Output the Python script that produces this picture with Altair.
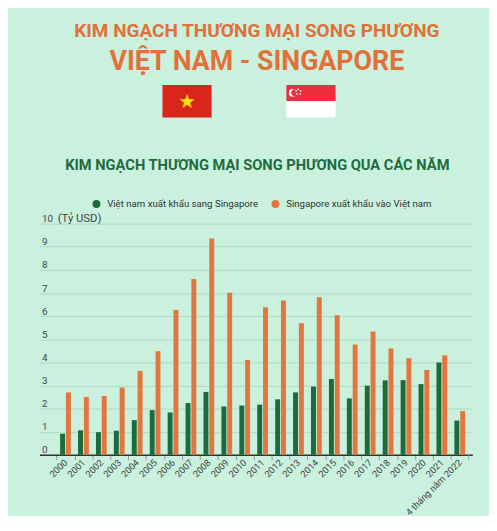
import altair as alt
import pandas as pd

categories = ["2000", "2001", "2002", "2003", "2004", "2005", "2006", "2007", "2008",
              "2009", "2010", "2011", "2012", "2013", "2014", "2015", "2016", "2017",
              "2018", "2019", "2020", "2021", "4 tháng năm 2022"]
vn_export = [0.91, 1.06, 0.98, 1.04, 1.50, 1.93, 1.83, 2.24, 2.72, 2.09, 2.13, 2.17,
             2.40, 2.70, 2.95, 3.28, 2.44, 2.99, 3.22, 3.23, 3.06, 3.99, 1.48]
sg_export = [2.70, 2.50, 2.55, 2.91, 3.63, 4.48, 6.26, 7.60, 9.36, 7.01, 4.10, 6.38,
             6.68, 5.69, 6.82, 6.04, 4.77, 5.33, 4.60, 4.18, 3.67, 4.30, 1.89]
series_names = ["Việt nam xuất khẩu sang Singapore", "Singapore xuất khẩu vào Việt nam"]
series_colors = ["#1b6b3d", "#e3753f"]
y_ticks = list(range(0, 11))

title1 = "KIM NGẠCH THƯƠNG MẠI SONG PHƯƠNG"
title2 = "VIỆT NAM - SINGAPORE"
subtitle = "KIM NGẠCH THƯƠNG MẠI SONG PHƯƠNG QUA CÁC NĂM"
unit = "(Tỷ USD)"

rows = []
for c, a, b in zip(categories, vn_export, sg_export):
    rows.append({"year": c, "series": series_names[0], "value": a})
    rows.append({"year": c, "series": series_names[1], "value": b})
df = pd.DataFrame(rows)

W, H = 440, 235
HALF_STEP = 9.11
FONT = "Roboto"
BG = "#c9f1dd"

one = pd.DataFrame({"k": [0]})

bars = alt.Chart(df).mark_bar().encode(
    x=alt.X("year:N", sort=categories, title=None,
            scale=alt.Scale(paddingInner=0.4, paddingOuter=0.775, align=0.743),
            axis=alt.Axis(labelAngle=-45, labelAlign="right", labelBaseline="middle",
                          labelFontSize=9.4, labelColor="#444", labelFont=FONT,
                          tickSize=5, tickColor="#999", tickOffset=-HALF_STEP,
                          labelOffset=HALF_STEP, labelPadding=1, domain=True,
                          domainColor="#333", domainWidth=1.5, grid=False,
                          labelOverlap=False, labelLimit=0)),
    xOffset=alt.XOffset("series:N", sort=series_names,
                        scale=alt.Scale(paddingInner=0.15, paddingOuter=0)),
    y=alt.Y("value:Q", scale=alt.Scale(domain=[0, 10], nice=False),
            axis=alt.Axis(values=y_ticks, title=unit, grid=True, gridColor="#afd9c2",
                          ticks=False, tickSize=0, domain=False, labelAlign="left",
                          labelPadding=-2, labelBaseline="alphabetic", labelOffset=-2,
                          labelFontSize=10, labelColor="#444", labelFont=FONT,
                          labelOverlap=False,
                          titleAngle=0, titleX=18, titleY=-2, titleAlign="left",
                          titleBaseline="alphabetic", titleFontWeight="normal",
                          titleFontSize=11.5, titleColor="#444", titleFont=FONT)),
    color=alt.Color("series:N", sort=series_names,
                    scale=alt.Scale(domain=series_names, range=series_colors),
                    legend=alt.Legend(orient="none", legendX=53, legendY=-25,
                                      direction="horizontal", title=None,
                                      symbolType="circle", symbolSize=64,
                                      symbolStrokeWidth=0, labelFontSize=9.8,
                                      labelFont=FONT, labelColor="#333", labelLimit=0,
                                      columnPadding=12, labelOffset=6, padding=0)),
)

last_tick = alt.Chart(one).mark_rule(color="#999").encode(
    x=alt.value(436.4), y=alt.value(H), y2=alt.value(H + 5))

def text(t, x, y, size, color, weight="bold"):
    return alt.Chart(one).mark_text(text=t, font=FONT, fontSize=size, fontWeight=weight,
                                    color=color, align="center", baseline="alphabetic").encode(
        x=alt.value(x), y=alt.value(y))

def rect(x, x2, y, y2, color):
    return alt.Chart(one).mark_rect(color=color).encode(
        x=alt.value(x), x2=alt.value(x2), y=alt.value(y), y2=alt.value(y2))

def dot(x, y, size, color):
    return alt.Chart(one).mark_circle(color=color, opacity=1, size=size).encode(
        x=alt.value(x), y=alt.value(y))

header = [
    text(title1, 221, -189.5, 19.3, "#e2703a"),
    text(title2, 221, -156, 27.2, "#e2703a"),
    text(subtitle, 221.5, -54.5, 14.9, "#1f6b3e"),
    rect(125, 175, -141, -108, "#da251d"),
    alt.Chart(one).mark_text(text="★", fontSize=20, color="#ffde00",
                             align="center", baseline="middle", font="DejaVu Sans").encode(
        x=alt.value(150), y=alt.value(-124)),
    rect(251, 301, -141, -124.5, "#ee2e3f"),
    rect(251, 301, -124.5, -108, "#ffffff"),
    dot(257.5, -133, 64, "#ffffff"),
    dot(259.5, -133, 50, "#ee2e3f"),
    dot(263, -136.5, 3, "#ffffff"),
    dot(265.5, -135, 3, "#ffffff"),
    dot(265, -132, 3, "#ffffff"),
    dot(261.5, -132, 3, "#ffffff"),
    dot(261, -135, 3, "#ffffff"),
]

chart = alt.layer(bars, last_tick, *header).properties(
    width=W, height=H,
    padding={"left": 32, "top": 215, "right": 17, "bottom": 58},
    autosize=alt.AutoSizeParams(type="none"),
    background=BG,
).configure_view(stroke=None)

chart.save("out.html", embed_options={"renderer": "svg", "actions": False})
